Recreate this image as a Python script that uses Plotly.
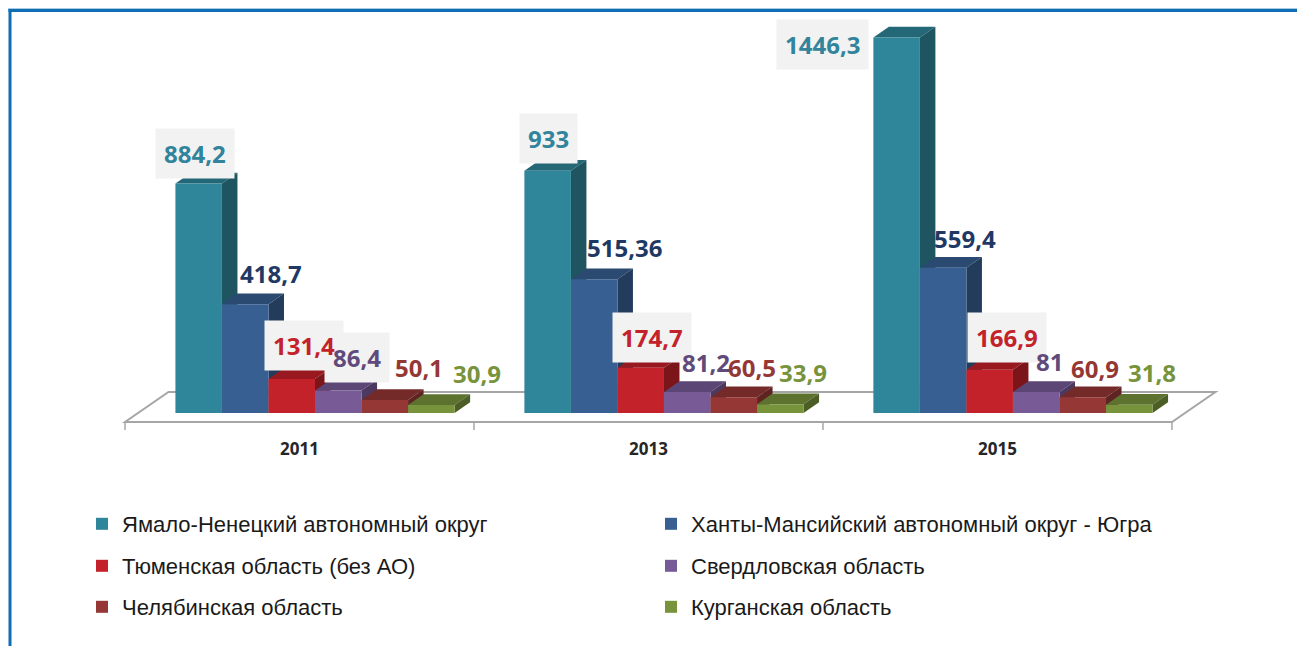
import plotly.graph_objects as go

# ---------------- data ----------------
years = ["2011", "2013", "2015"]
series_names = [
    "Ямало-Ненецкий автономный округ",
    "Ханты-Мансийский автономный округ - Югра",
    "Тюменская область (без АО)",
    "Свердловская область",
    "Челябинская область",
    "Курганская область",
]
yamal = [884.2, 933, 1446.3]
khmao = [418.7, 515.36, 559.4]
tyumen = [131.4, 174.7, 166.9]
sverdl = [86.4, 81.2, 81]
chelyab = [50.1, 60.5, 60.9]
kurgan = [30.9, 33.9, 31.8]
values = [yamal, khmao, tyumen, sverdl, chelyab, kurgan]

# ---------------- styles ----------------
front_colors = ["#2f8599", "#375f91", "#c3222a", "#775a96", "#953735", "#77933c"]
label_colors = ["#31849b", "#1f3864", "#c3222a", "#604a7b", "#953735", "#77933c"]
# label offsets (pixels) relative to top-centre of each bar front face
label_xshift = [[-4, 1, -74], [26, 30, 22], [12, 11, 17], [19, 19, 13], [34, 18, 12], [46, 23, 23]]
label_yshift = [[30, 32, -7], [31, 32, 29], [33, 30, 32], [33, 29, 30], [32, 30, 29], [31, 32, 32]]
label_box = [[True, True, True], [False, False, False], [True, True, True],
             [True, False, False], [False, False, False], [False, False, False]]

W, H = 1297, 646
PL, PR, PT, PB = 80, 1240, 20, 440          # plot area in pixels
XMIN, XMAX = -0.629, 2.695
Y0PX = 413                                   # pixel of value 0
KY = 0.2596                                  # px per unit
YMAX = (Y0PX - PT) / KY
YMIN = -(PB - Y0PX) / KY
KX = (PR - PL) / (XMAX - XMIN)

def px_to_paper_x(p):
    return (p - PL) / (PR - PL)

def px_to_paper_y(p):
    return (PB - p) / (PB - PT)

def darken(hexc, f):
    h = hexc.lstrip("#")
    r, g, b = (int(h[i:i + 2], 16) for i in (0, 2, 4))
    return "#%02x%02x%02x" % (int(r * f), int(g * f), int(b * f))

DDX = 15.5 / KX          # bar depth in x units
DDY = 10.7 / KY          # bar depth in y units
BARGAP = 0.2
n = len(values)
bw = (1 - BARGAP) / n
xpos = [i + DDX for i in range(len(years))]

fig = go.Figure()
legend_ids = ["legend", "legend2", "legend3"]
for j, (name, vals) in enumerate(zip(series_names, values)):
    fig.add_trace(go.Bar(
        x=xpos, y=vals, name=name,
        marker=dict(color=front_colors[j], line=dict(width=0)),
        legend=legend_ids[j // 2],
        hovertemplate="%{y}<extra>" + name + "</extra>",
    ))

shapes = []
# floor
fl_front = -(422 - Y0PX) / KY
fl_back = (Y0PX - 392) / KY
fl_dx = 43.5 / KX
x_left, x_right = -0.5, len(years) - 0.5
shapes.append(dict(type="path", xref="x", yref="y", layer="below",
                   path=f"M{x_left},{fl_front} L{x_right},{fl_front} L{x_right + fl_dx},{fl_back} L{x_left + fl_dx},{fl_back} Z",
                   fillcolor="white", line=dict(color="#a6a6a6", width=2)))
tick_bottom = -(430 - Y0PX) / KY
for b in range(len(years) + 1):
    xb = b - 0.5
    shapes.append(dict(type="line", xref="x", yref="y", layer="below",
                       x0=xb, x1=xb, y0=fl_front, y1=tick_bottom,
                       line=dict(color="#a6a6a6", width=1.5)))

# 3D faces of bars
for i in range(len(years)):
    for j in range(n):
        v = values[j][i]
        xc = xpos[i] - (1 - BARGAP) / 2 + (j + 0.5) * bw
        l, r = xc - bw / 2, xc + bw / 2
        shapes.append(dict(type="path", xref="x", yref="y", layer="below",
                           path=f"M{l},{v} L{r},{v} L{r + DDX},{v + DDY} L{l + DDX},{v + DDY} Z",
                           fillcolor=darken(front_colors[j], 0.78), line=dict(width=0)))
        shapes.append(dict(type="path", xref="x", yref="y", layer="below",
                           path=f"M{r},0 L{r},{v} L{r + DDX},{v + DDY} L{r + DDX},{DDY} Z",
                           fillcolor=darken(front_colors[j], 0.64), line=dict(width=0)))

# blue frame (left and top)
shapes.append(dict(type="line", xref="paper", yref="paper",
                   x0=px_to_paper_x(8), x1=px_to_paper_x(W + 5), y0=px_to_paper_y(8.5), y1=px_to_paper_y(8.5),
                   line=dict(color="#a9cbe8", width=1)))
shapes.append(dict(type="line", xref="paper", yref="paper",
                   x0=px_to_paper_x(8.5), x1=px_to_paper_x(W + 5), y0=px_to_paper_y(10.5), y1=px_to_paper_y(10.5),
                   line=dict(color="#0f6db3", width=3)))
shapes.append(dict(type="line", xref="paper", yref="paper",
                   x0=px_to_paper_x(10), x1=px_to_paper_x(10), y0=px_to_paper_y(9), y1=px_to_paper_y(H + 5),
                   line=dict(color="#0f6db3", width=3)))

# data labels: first the background boxes, then all the texts on top
box_annotations, text_annotations = [], []
for j in range(n):
    for i in range(len(years)):
        v = values[j][i]
        xc = xpos[i] - (1 - BARGAP) / 2 + (j + 0.5) * bw
        txt = f"{v:g}".replace(".", ",")
        common = dict(x=xc, y=v, xref="x", yref="y", text=txt, showarrow=False,
                      xanchor="center", yanchor="middle",
                      xshift=label_xshift[j][i], yshift=label_yshift[j][i], borderpad=8)
        if label_box[j][i]:
            box_annotations.append(dict(
                **common, bgcolor="#f2f2f2",
                font=dict(family="Open Sans", size=24, color="rgba(0,0,0,0)", weight="bold")))
        text_annotations.append(dict(
            **common, bgcolor="rgba(0,0,0,0)",
            font=dict(family="Open Sans", size=24, color=label_colors[j], weight="bold")))

legend_font = dict(family="Liberation Sans, Arial, sans-serif", size=22, color="#1a1a1a")
row_y = [524, 566, 607]
legend_common = dict(orientation="h", xanchor="left", yanchor="middle",
                     entrywidth=524, entrywidthmode="pixels", font=legend_font,
                     bgcolor="rgba(0,0,0,0)", itemclick=False, itemdoubleclick=False)
LEG_X = 82

fig.update_layout(
    width=W, height=H,
    margin=dict(l=PL, r=W - PR, t=PT, b=H - PB, pad=0, autoexpand=False),
    paper_bgcolor="white", plot_bgcolor="white",
    barmode="group", bargap=BARGAP, bargroupgap=0,
    separators=", ",
    xaxis=dict(range=[XMIN, XMAX], tickvals=list(range(len(years))), ticktext=years,
               showgrid=False, zeroline=False, showline=False, ticks="",
               ticklabelstandoff=-3,
               tickfont=dict(family="Open Sans", size=17, color="#262626", weight="bold"),
               fixedrange=True),
    yaxis=dict(range=[YMIN, YMAX], visible=False, fixedrange=True),
    shapes=shapes,
    annotations=box_annotations + text_annotations,
    legend=dict(x=px_to_paper_x(LEG_X), y=px_to_paper_y(row_y[0]), **legend_common),
    legend2=dict(x=px_to_paper_x(LEG_X), y=px_to_paper_y(row_y[1]), **legend_common),
    legend3=dict(x=px_to_paper_x(LEG_X), y=px_to_paper_y(row_y[2]), **legend_common),
    showlegend=True,
)

fig.write_html("out.html", post_script="document.body.style.margin='0';",
               config={"displayModeBar": False})
